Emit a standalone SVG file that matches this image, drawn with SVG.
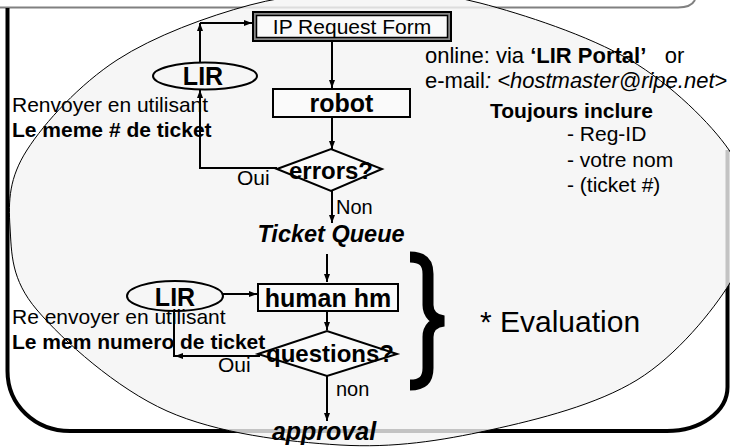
<svg xmlns="http://www.w3.org/2000/svg" width="730" height="448" viewBox="0 0 730 448">
<defs>
<marker id="ah" markerUnits="userSpaceOnUse" markerWidth="8" markerHeight="6" refX="8" refY="3" orient="auto"><path d="M0,0 L8,3 L0,6 Z" fill="#000"/></marker>
<style>
text{font-family:"Liberation Sans",Arial,sans-serif;fill:#000}
.b{font-weight:bold}
.bi{font-weight:bold;font-style:italic}
.it{font-style:italic}
.c{text-anchor:middle}
.ln{stroke:#000;stroke-width:2;fill:none}
.arr{stroke:#000;stroke-width:2;fill:none;marker-end:url(#ah)}
.node{stroke:#000;stroke-width:2;fill:#fafafa}
</style>
</defs>
<rect width="730" height="448" fill="#fff"/>
<g id="frame">
<path d="M0,7.5 H678 Q691,7.5 695,0" fill="none" stroke="#808080" stroke-width="2"/>
<path d="M7.5,8 V371 C7.5,405 35,431 70,431 H667 C700,431 727.5,412 727.5,387 V150" fill="none" stroke="#000" stroke-width="4"/>
</g>
<path id="bubble" d="M370,-8 C408.3,-8.3 436.7,-8.3 480,3 C523.3,14.3 588.5,35.5 630,60 C671.5,84.5 711,123.8 729,150 C747,176.2 737.8,194.8 738,217 C738.2,239.2 746.8,255.8 730,283 C713.2,310.2 677,355.5 637,380 C597,404.5 539.5,419.2 490,430 C440.5,440.8 393.8,448.2 340,445 C286.2,441.8 217.5,433.5 167,411 C116.5,388.5 63.2,340.7 37,310 C10.8,279.3 11.7,253.7 10,227 C8.3,200.3 9.2,177.8 27,150 C44.8,122.2 79.8,84.2 117,60 C154.2,35.8 207.8,16.3 250,5 C292.2,-6.3 331.7,-7.7 370,-8 Z" fill="#f4f4f4" fill-opacity="0.8" stroke="#000" stroke-width="1"/>
<g id="connectors">
<line class="arr" x1="332" y1="41" x2="332" y2="88"/>
<line class="arr" x1="332" y1="117" x2="332" y2="149"/>
<polyline class="arr" points="277,168 200,168 200,90"/>
<line class="arr" x1="200" y1="63" x2="200" y2="23"/>
<line class="arr" x1="200" y1="23" x2="252" y2="23"/>
<line class="arr" x1="332" y1="191" x2="332" y2="223"/>
<line class="arr" x1="327" y1="254" x2="327" y2="282"/>
<line class="arr" x1="223" y1="294" x2="257" y2="294"/>
<line class="arr" x1="327" y1="311" x2="327" y2="330"/>
<line class="arr" x1="260" y1="356" x2="175" y2="356"/>
<line class="ln" x1="174" y1="311" x2="174" y2="357"/>
<line class="arr" x1="327" y1="376" x2="327" y2="421"/>
</g>
<g id="ipform">
<rect x="253" y="12" width="198" height="29" fill="#888" stroke="#000" stroke-width="2"/>
<rect x="256.5" y="15.5" width="191" height="22" fill="#fafafa" stroke="#000" stroke-width="1.5"/>
<text x="352" y="34" class="c" font-size="21">IP Request Form</text>
</g>
<g id="lir1">
<ellipse cx="205" cy="76" rx="52" ry="13.5" fill="#f6f6f6" stroke="#000" stroke-width="2"/>
<text x="203" y="85" class="b c" font-size="25">LIR</text>
</g>
<g id="robot">
<rect x="273" y="89" width="137" height="28" class="node"/>
<text x="341.5" y="112" class="b c" font-size="25">robot</text>
</g>
<g id="errors">
<polygon points="277,169 331,149 382,169 331,191" class="node"/>
<text x="331" y="179" class="b c" font-size="24">errors?</text>
</g>
<text x="237" y="185" font-size="21">Oui</text>
<text x="336" y="214" font-size="20">Non</text>
<text x="331" y="242" class="bi c" font-size="23.5">Ticket Queue</text>
<g id="lir2">
<ellipse cx="175" cy="296" rx="48" ry="15" fill="#f6f6f6" stroke="#000" stroke-width="2"/>
<text x="175" y="306" class="b c" font-size="25">LIR</text>
</g>
<g id="humanhm">
<rect x="258" y="284" width="140" height="27" class="node"/>
<text x="328" y="307" class="b c" font-size="25">human hm</text>
</g>
<g id="questions">
<polygon points="258,354 327,331 397,354 327,376" class="node"/>
<text x="330" y="362" class="b c" font-size="24">questions?</text>
</g>
<text x="218" y="372" font-size="21">Oui</text>
<text x="336" y="396" font-size="20">non</text>
<text x="324" y="440" class="bi c" font-size="25">approval</text>
<text x="12" y="112" font-size="21">Renvoyer en utilisant</text>
<text x="12" y="137" class="b" font-size="21">Le meme # de ticket</text>
<text x="12" y="324" font-size="21">Re envoyer en utilisant</text>
<text x="12" y="349" class="b" font-size="21">Le mem numero de ticket</text>
<text x="425" y="63" font-size="22" xml:space="preserve">online: via <tspan class="b">&#8216;LIR Portal&#8217;</tspan>   or</text>
<text x="425" y="88" font-size="22">e-mail<tspan class="it">: &lt;hostmaster@ripe.net</tspan>&gt;</text>
<text x="490" y="118" class="b" font-size="21">Toujours inclure</text>
<text x="567" y="141" font-size="21">- Reg-ID</text>
<text x="567" y="167" font-size="21">- votre nom</text>
<text x="567" y="192" font-size="21">- (ticket #)</text>
<path id="brace" d="M410,257 C422,257 428,262 428,274 V305 C428,314 434,320 444,321 C434,322 428,328 428,337 V368 C428,380 422,385 410,385" fill="none" stroke="#000" stroke-width="11"/>
<text x="480" y="332" font-size="30">* Evaluation</text>
</svg>
